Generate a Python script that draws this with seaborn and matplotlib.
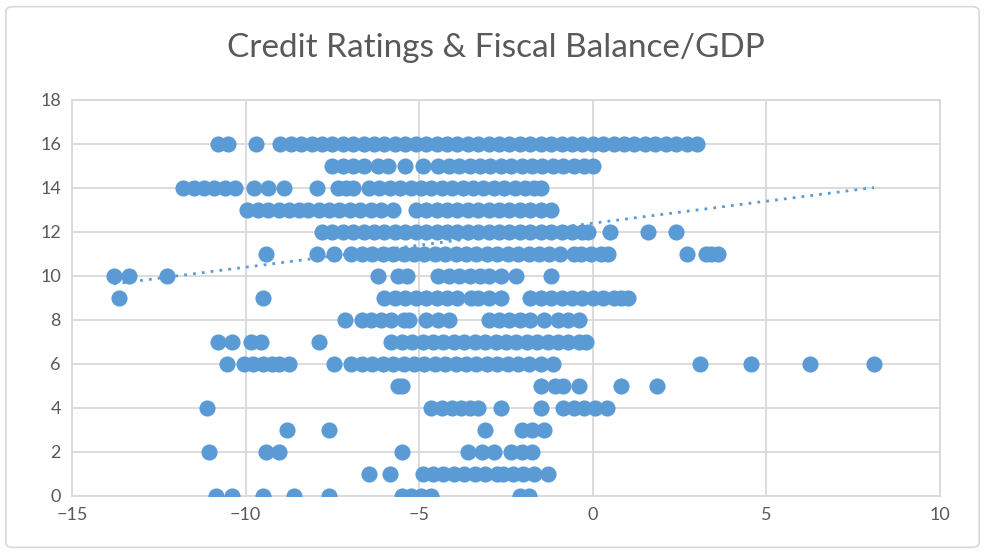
import numpy as np
import pandas as pd
import matplotlib
matplotlib.use("Agg")
import matplotlib.pyplot as plt
from matplotlib.patches import FancyBboxPatch
import seaborn as sns

# fiscal balance / GDP (%) observed at each credit rating level
rating_16 = [-10.8, -10.5, -9.7, -9.0, -8.7, -8.4, -8.1, -7.8, -7.5, -7.2, -6.9, -6.6, -6.3,
             -6.0, -5.7, -5.4, -5.1, -4.8, -4.5, -4.2, -3.9, -3.6, -3.3, -3.0, -2.7, -2.4,
             -2.1, -1.8, -1.5, -1.2, -0.9, -0.6, -0.3, 0.0, 0.3, 0.6, 0.9, 1.2, 1.5, 1.8,
             2.1, 2.4, 2.7, 3.0]
rating_15 = [-7.5, -7.2, -6.9, -6.6, -6.2, -5.9, -5.4, -4.9, -4.45, -4.15, -3.85, -3.55,
             -3.25, -2.95, -2.65, -2.35, -2.05, -1.75, -1.45, -1.15, -0.85, -0.55, -0.25, 0.0]
rating_14 = [-11.8, -11.5, -11.2, -10.9, -10.6, -10.3, -9.75, -9.35, -8.9, -7.95, -7.35,
             -7.1, -6.9, -6.45, -6.15, -5.85, -5.55, -5.25, -4.95, -4.65, -4.35, -4.05,
             -3.75, -3.45, -3.15, -2.85, -2.55, -2.25, -1.95, -1.7, -1.5]
rating_13 = [-9.95, -9.65, -9.35, -9.05, -8.75, -8.45, -8.2, -7.9, -7.6, -7.3, -7.0, -6.7,
             -6.4, -6.1, -5.75, -5.1, -4.8, -4.5, -4.2, -3.9, -3.6, -3.3, -3.0, -2.7, -2.4,
             -2.1, -1.8, -1.5, -1.2]
rating_12 = [-7.8, -7.5, -7.2, -6.9, -6.6, -6.3, -6.0, -5.7, -5.4, -5.1, -4.8, -4.5, -4.2,
             -3.9, -3.6, -3.3, -3.0, -2.7, -2.4, -2.1, -1.8, -1.5, -1.2, -0.9, -0.6, -0.3,
             -0.15, 0.5, 1.6, 2.4]
rating_11 = [-9.4, -7.95, -7.45, -6.95, -6.65, -6.35, -6.05, -5.75, -5.45, -5.15, -4.85,
             -4.55, -4.25, -3.95, -3.65, -3.35, -3.05, -2.75, -2.45, -2.15, -1.85, -1.55,
             -1.25, -0.95, -0.55, -0.35, -0.05, 0.25, 0.45, 2.7, 3.25, 3.4, 3.6]
rating_10 = [-13.8, -13.35, -12.25, -6.2, -5.6, -5.35, -4.45, -4.15, -3.85, -3.55, -3.25,
             -3.0, -2.65, -2.2, -1.2]
rating_9 = [-13.65, -9.5, -6.0, -5.7, -5.4, -5.1, -4.8, -4.5, -4.2, -3.9, -3.5, -3.3, -3.0,
            -2.65, -1.8, -1.5, -1.2, -0.9, -0.6, -0.3, 0.0, 0.3, 0.6, 0.8, 1.0]
rating_8 = [-7.15, -6.65, -6.4, -6.1, -5.8, -5.45, -5.3, -4.8, -4.45, -4.15, -3.0, -2.7,
            -2.4, -2.1, -1.8, -1.4, -1.0, -0.7, -0.4]
rating_7 = [-10.8, -10.4, -9.85, -9.55, -7.9, -5.8, -5.5, -5.2, -4.9, -4.6, -4.3, -4.0,
            -3.7, -3.4, -3.1, -2.8, -2.5, -2.2, -1.9, -1.6, -1.3, -1.0, -0.7, -0.4, -0.2]
rating_6 = [-10.55, -10.05, -9.8, -9.5, -9.25, -9.05, -8.75, -7.45, -6.95, -6.65, -6.35,
            -6.05, -5.75, -5.45, -5.15, -4.85, -4.55, -4.25, -3.95, -3.65, -3.35, -3.05,
            -2.75, -2.45, -2.15, -1.85, -1.5, -1.15, 3.1, 4.55, 6.25, 8.1]
rating_5 = [-5.6, -5.5, -1.5, -1.1, -0.85, -0.4, 0.8, 1.85]
rating_4 = [-11.1, -4.65, -4.35, -4.05, -3.8, -3.55, -3.3, -2.65, -1.5, -0.85, -0.55, -0.25,
            0.05, 0.4]
rating_3 = [-8.8, -7.6, -3.1, -2.05, -1.75, -1.4]
rating_2 = [-11.05, -9.4, -9.05, -5.5, -3.6, -3.2, -2.85, -2.35, -2.05, -1.75]
rating_1 = [-6.45, -5.85, -4.9, -4.6, -4.3, -4.0, -3.7, -3.4, -3.1, -2.75, -2.6, -2.3, -2.0,
            -1.7, -1.3]
rating_0 = [-10.85, -10.4, -9.5, -8.6, -7.6, -5.5, -5.25, -4.95, -4.65, -2.1, -1.85]

# linear trendline
trend_slope = 0.20
trend_intercept = 12.4

rows = {16: rating_16, 15: rating_15, 14: rating_14, 13: rating_13, 12: rating_12,
        11: rating_11, 10: rating_10, 9: rating_9, 8: rating_8, 7: rating_7, 6: rating_6,
        5: rating_5, 4: rating_4, 3: rating_3, 2: rating_2, 1: rating_1, 0: rating_0}
df = pd.DataFrame([(x, r) for r, xs in rows.items() for x in xs],
                  columns=["balance", "rating"])

sns.set_style("white")
plt.rcParams['font.family'] = ['Lato', 'DejaVu Sans']

blue = "#5b9bd5"
grey_txt = "#595959"
grid_c = "#d9d9d9"

fig = plt.figure(figsize=(9.85, 5.54), dpi=100)
ax = fig.add_axes([0.0731, 0.1047, 0.8812, 0.7148])

sns.scatterplot(data=df, x="balance", y="rating", ax=ax, color=blue, s=135,
                linewidth=0, zorder=3)

xt = np.array([df["balance"].min(), df["balance"].max()])
ax.plot(xt, trend_slope * xt + trend_intercept, color=blue, linewidth=2,
        linestyle=(0, (1, 2.2)), zorder=4)

ax.set_xlim(-15, 10)
ax.set_ylim(0, 18)
ax.set_xticks(range(-15, 11, 5))
ax.set_yticks(range(0, 19, 2))
ax.grid(True, color=grid_c, linewidth=1.3, zorder=0)
ax.set_axisbelow(True)
for s in ax.spines.values():
    s.set_color(grid_c)
    s.set_linewidth(1.3)
ax.tick_params(length=0, labelsize=13, labelcolor=grey_txt, pad=8)
ax.set_xlabel("")
ax.set_ylabel("")

fig.text(0.503, 0.913, "Credit Ratings & Fiscal Balance/GDP", ha="center", va="center",
         fontsize=24, color=grey_txt)

border = FancyBboxPatch((0.006, 0.012), 0.988, 0.976, boxstyle="round,pad=0,rounding_size=0.008",
                        transform=fig.transFigure, facecolor="none", edgecolor=grid_c,
                        linewidth=1.2)
fig.patches.append(border)

fig.savefig("out.png", dpi=100)
